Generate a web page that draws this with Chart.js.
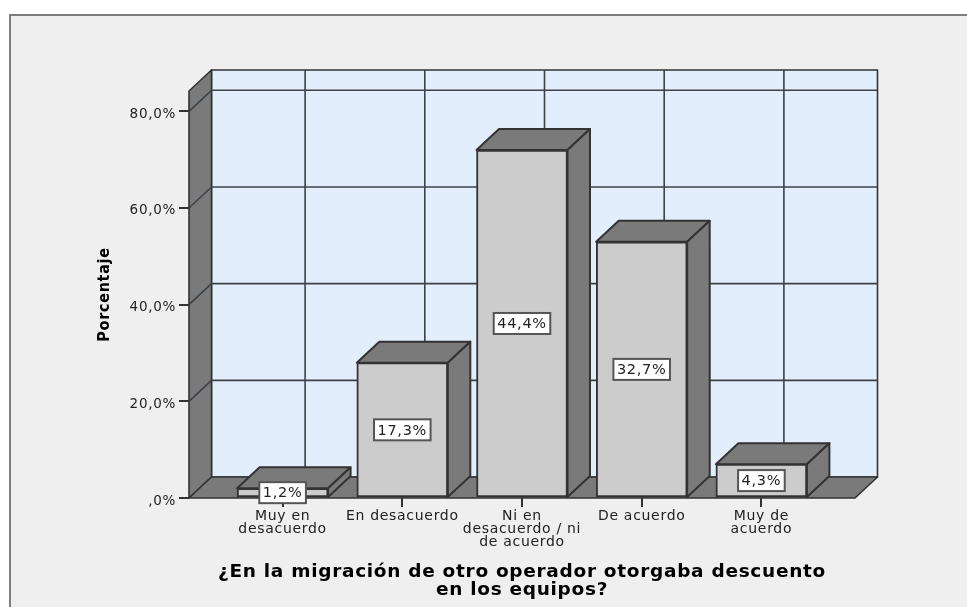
<!DOCTYPE html>
<html>
<head>
<meta charset="utf-8">
<style>
  html, body { margin: 0; padding: 0; background: #fff; }
  canvas { display: block; }
</style>
<script src="https://cdn.jsdelivr.net/npm/chart.js@4"></script>
</head>
<body>
<canvas id="myChart" width="967" height="607"></canvas>
<script>
const categories = [
    ["Muy en", "desacuerdo"],
    ["En desacuerdo"],
    ["Ni en", "desacuerdo / ni", "de acuerdo"],
    ["De acuerdo"],
    ["Muy de", "acuerdo"]
];
// heights; the printed labels don't agree with them in the picture
const barHeights = [2, 28, 72, 53, 7];
const barLabels = ["1,2%", "17,3%", "44,4%", "32,7%", "4,3%"];
const yTicks = [0, 20, 40, 60, 80];
const yTickLabels = [",0%", "20,0%", "40,0%", "60,0%", "80,0%"];
const xTitle = ["¿En la migración de otro operador otorgaba descuento", "en los equipos?"];
const yTitle = "Porcentaje";

const depthX = 22.5;
const depthY = 21;
const lineColor = "#333";

function poly(ctx, pts, fill) {
    ctx.beginPath();
    pts.forEach((p, i) => i ? ctx.lineTo(p[0], p[1]) : ctx.moveTo(p[0], p[1]));
    ctx.closePath();
    ctx.fillStyle = fill;
    ctx.fill();
    ctx.stroke();
}

const frame3d = {
    id: "frame3d",
    beforeDraw(chart) {
        const ctx = chart.ctx;
        // the text in the picture is stretched sideways
        ctx.letterSpacing = "0.7px";
        ctx.save();
        ctx.fillStyle = "#fff";
        ctx.fillRect(0, 0, chart.width, chart.height);
        ctx.fillStyle = "#efefef";
        ctx.fillRect(9, 15, chart.width - 9, chart.height - 15);
        ctx.fillStyle = "#7d7d7d";
        ctx.fillRect(9, 14, chart.width - 9, 2);
        ctx.fillRect(9, 14, 2, chart.height - 14);
        ctx.restore();
    },
    beforeDatasetsDraw(chart) {
        const ctx = chart.ctx;
        const a = chart.chartArea;
        const xs = chart.scales.x;
        const ys = chart.scales.y;
        ctx.save();
        ctx.lineWidth = 1.6;
        ctx.strokeStyle = lineColor;
        ctx.lineJoin = "round";

        // back wall
        poly(ctx, [[a.left + depthX, a.top - depthY], [a.right + depthX, a.top - depthY],
                   [a.right + depthX, a.bottom - depthY], [a.left + depthX, a.bottom - depthY]], "#e2eefb");
        // left wall
        poly(ctx, [[a.left, a.top], [a.left + depthX, a.top - depthY],
                   [a.left + depthX, a.bottom - depthY], [a.left, a.bottom]], "#7a7a7a");
        // floor
        poly(ctx, [[a.left, a.bottom], [a.right, a.bottom],
                   [a.right + depthX, a.bottom - depthY], [a.left + depthX, a.bottom - depthY]], "#7a7a7a");

        // grid on the walls
        ctx.strokeStyle = "#3c4248";
        ctx.beginPath();
        yTicks.forEach(v => {
            if (v === 0) return;
            const y = ys.getPixelForValue(v);
            ctx.moveTo(a.left, y);
            ctx.lineTo(a.left + depthX, y - depthY);
            ctx.lineTo(a.right + depthX, y - depthY);
        });
        categories.forEach((c, i) => {
            const x = xs.getPixelForValue(i) + depthX;
            ctx.moveTo(x, a.top - depthY);
            ctx.lineTo(x, a.bottom - depthY);
        });
        ctx.stroke();

        // tops and sides of the bars
        ctx.strokeStyle = lineColor;
        ctx.lineWidth = 2;
        chart.getDatasetMeta(0).data.forEach(bar => {
            const l = bar.x - bar.width / 2;
            const r = bar.x + bar.width / 2;
            poly(ctx, [[l, bar.y], [r, bar.y], [r + depthX, bar.y - depthY], [l + depthX, bar.y - depthY]], "#7a7a7a");
            poly(ctx, [[r, bar.y], [r + depthX, bar.y - depthY], [r + depthX, bar.base - depthY], [r, bar.base]], "#7a7a7a");
        });
        ctx.restore();
    },
    afterDatasetsDraw(chart) {
        const ctx = chart.ctx;
        ctx.save();
        ctx.font = "14.5px 'DejaVu Sans'";
        ctx.textAlign = "center";
        ctx.textBaseline = "middle";
        chart.getDatasetMeta(0).data.forEach((bar, i) => {
            const cy = (bar.y + bar.base) / 2;
            const w = ctx.measureText(barLabels[i]).width + 7;
            ctx.fillStyle = "#fff";
            ctx.strokeStyle = "#555";
            ctx.lineWidth = 2;
            ctx.fillRect(bar.x - w / 2, cy - 10.5, w, 21);
            ctx.strokeRect(bar.x - w / 2, cy - 10.5, w, 21);
            ctx.fillStyle = "#222";
            ctx.fillText(barLabels[i], bar.x, cy + 1);
        });
        ctx.restore();
    }
};

const ctx = document.getElementById("myChart").getContext("2d");
const chart = new Chart(ctx, {
    type: "bar",
    plugins: [frame3d],
    data: {
        datasets: [{
            data: barHeights.map((v, i) => ({ x: i, y: v })),
            backgroundColor: "#cccccc",
            borderColor: lineColor,
            borderWidth: 2,
            borderSkipped: false,
            barThickness: 91
        }]
    },
    options: {
        responsive: false,
        animation: false,
        layout: { padding: { left: 95, top: 91, right: 112, bottom: 6 } },
        plugins: { legend: { display: false }, tooltip: { enabled: false } },
        scales: {
            x: {
                type: "linear",
                offset: false,
                min: -0.782,
                max: 4.782,
                afterFit(scale) { scale.height = 103; },
                grid: { drawOnChartArea: false, offset: false, color: "#333", tickLength: 9, lineWidth: 2 },
                border: { display: false },
                ticks: {
                    stepSize: 1,
                    includeBounds: false,
                    autoSkip: false,
                    maxRotation: 0,
                    padding: 3,
                    color: "#222",
                    font: { family: "'DejaVu Sans'", size: 14, lineHeight: 0.92 },
                    callback: v => categories[v] || ""
                },
                title: {
                    display: true,
                    text: xTitle,
                    color: "#000",
                    font: { family: "'DejaVu Sans'", size: 18.5, weight: "bold", lineHeight: 0.95 },
                    padding: { top: 0, bottom: 2 }
                }
            },
            y: {
                min: 0,
                max: 84.2,
                afterFit(scale) { scale.width = 94; },
                afterBuildTicks(scale) { scale.ticks = yTicks.map(v => ({ value: v })); },
                grid: { drawOnChartArea: false, color: "#333", tickLength: 10, lineWidth: 2 },
                border: { display: false },
                ticks: {
                    padding: 3,
                    labelOffset: 3,
                    color: "#222",
                    font: { family: "'DejaVu Sans'", size: 13.5 },
                    callback: v => yTickLabels[yTicks.indexOf(v)]
                },
                title: {
                    display: true,
                    text: yTitle,
                    color: "#000",
                    font: { family: "'DejaVu Sans Condensed', 'Liberation Sans'", size: 16, weight: "bold" },
                    padding: 0
                }
            }
        }
    }
});
</script>
</body>
</html>
